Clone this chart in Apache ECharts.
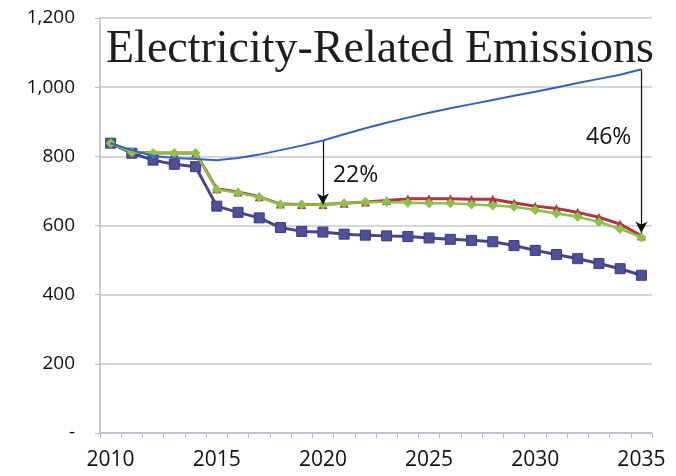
<!DOCTYPE html>
<html>
<head>
<meta charset="utf-8">
<script src="https://cdn.jsdelivr.net/npm/echarts@6/dist/echarts.min.js"></script>
<style>
  html, body { margin: 0; padding: 0; background: #fff; }
  #main { width: 676px; height: 476px; }
</style>
</head>
<body>
<div id="main"></div>
<script>
// years on the category axis
const years = ['2010','2011','2012','2013','2014','2015','2016','2017','2018','2019','2020','2021','2022',
  '2023','2024','2025','2026','2027','2028','2029','2030','2031','2032','2033','2034','2035'];

// baseline (blue, no markers)
const baseline = [838, 818, 801, 795, 792, 789, 795, 805, 818, 831, 846, 864, 881, 897, 912, 926, 939, 951,
  963, 975, 987, 999, 1012, 1024, 1036, 1052];
// red scenario
const redSeries = [838, 812, 810, 810, 810, 706, 697, 683, 662, 661, 661, 664, 668, 672, 677, 677, 677, 676,
  676, 665, 656, 649, 638, 624, 604, 570];
// green scenario
const greenSeries = [838, 812, 810, 810, 810, 704, 695, 682, 661, 661, 661, 664, 668, 668, 666, 664, 664, 661,
  658, 654, 645, 635, 625, 610, 590, 566];
// purple scenario (squares)
const purpleSeries = [838, 809, 789, 777, 770, 656, 638, 622, 594, 583, 581, 575, 572, 570, 568, 564, 560, 557,
  553, 542, 528, 516, 504, 490, 475, 456];

const yTickLabels = ['-', '200', '400', '600', '800', '1,000', '1,200'];

// annotation arrows and their labels
const arrows = [
  { year: '2020', from: 846, to: 661, text: '22%', textValue: 746, side: 'right' },
  { year: '2035', from: 1052, to: 579, text: '46%', textValue: 856, side: 'left' }
];

const chart = echarts.init(document.getElementById('main'));

const labelFont = '"Open Sans", "Liberation Sans", sans-serif';

const option = {
  animation: false,
  backgroundColor: '#fff',
  title: {
    text: 'Electricity-Related Emissions',
    left: 101,
    top: 22,
    textStyle: {
      fontFamily: '"Liberation Serif", "DejaVu Serif", serif',
      fontSize: 46,
      fontWeight: 'normal',
      color: '#1e1e1e'
    }
  },
  grid: { left: 100, right: 24, top: 18, bottom: 43 },
  xAxis: {
    type: 'category',
    data: years,
    boundaryGap: true,
    axisLine: { lineStyle: { color: '#b8bec6', width: 1.5 } },
    axisTick: { show: true, interval: 0, length: 5, lineStyle: { color: '#b8bec6' } },
    axisLabel: {
      interval: 4,
      color: '#111',
      fontFamily: labelFont,
      fontSize: 21,
      margin: 17
    }
  },
  yAxis: {
    type: 'value',
    min: 0,
    max: 1200,
    interval: 200,
    axisLine: { show: true, lineStyle: { color: '#b8bec6', width: 1.5 } },
    axisTick: { show: true, length: 5, lineStyle: { color: '#b8bec6' } },
    splitLine: { lineStyle: { color: '#c4c9d0', width: 1.5 } },
    axisLabel: {
      color: '#111',
      fontFamily: labelFont,
      fontSize: 19,
      margin: 25,
      formatter: v => yTickLabels[Math.round(v / 200)]
    }
  },
  series: [
    {
      name: 'Purple',
      type: 'line',
      data: purpleSeries,
      symbol: 'rect',
      symbolSize: 10,
      lineStyle: { color: '#47468c', width: 3 },
      itemStyle: { color: '#504f9c', borderColor: '#3b3a7a', borderWidth: 1 },
      z: 3
    },
    {
      name: 'Red',
      type: 'line',
      data: redSeries,
      symbol: 'triangle',
      symbolSize: 9,
      lineStyle: { color: '#b3343c', width: 3 },
      itemStyle: { color: '#b3343c' },
      z: 2
    },
    {
      name: 'Green',
      type: 'line',
      data: greenSeries,
      symbol: 'diamond',
      symbolSize: 10,
      lineStyle: { color: '#8dbf4c', width: 2.5 },
      itemStyle: { color: '#8dc14a' },
      z: 4
    },
    {
      name: 'Baseline',
      type: 'line',
      data: baseline,
      symbol: 'none',
      lineStyle: { color: '#3262c0', width: 2 },
      z: 5,
      markLine: {
        silent: true,
        symbol: ['none', 'arrow'],
        symbolSize: [9, 11],
        lineStyle: { color: '#111', width: 1.2, type: 'solid' },
        label: { show: false },
        data: arrows.map(a => [
          { coord: [a.year, a.from] },
          { coord: [a.year, a.to] }
        ])
      },
      markPoint: {
        silent: true,
        symbol: 'circle',
        symbolSize: 0,
        data: arrows.map(a => ({
          coord: [a.year, a.textValue],
          label: {
            show: true,
            formatter: a.text,
            position: a.side,
            distance: 10,
            color: '#111',
            fontFamily: labelFont,
            fontSize: 23
          }
        }))
      }
    }
  ]
};

chart.setOption(option);
</script>
</body>
</html>
